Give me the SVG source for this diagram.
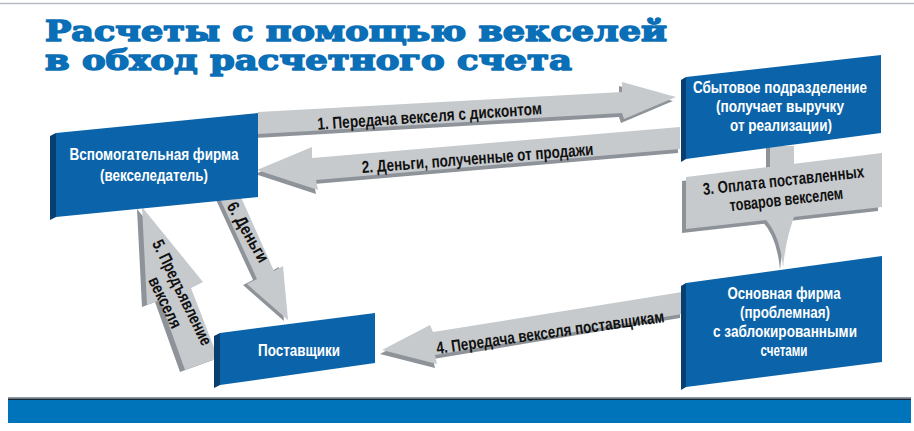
<svg xmlns="http://www.w3.org/2000/svg" width="914" height="431" viewBox="0 0 914 431">
<defs>
<style>
.bf{fill:#0b64aa}
.bs{fill:#073f70}
.af{fill:#c6cacd}
.as{fill:#8d9398}
.bt{font-family:"Liberation Sans",Arial,sans-serif;font-weight:bold;font-size:17px;fill:#ffffff;text-anchor:middle}
.at{font-family:"Liberation Sans",Arial,sans-serif;font-weight:bold;font-size:17px;fill:#111111;text-anchor:middle}
.tt{font-family:"DejaVu Serif",serif;font-weight:bold;font-size:28px;fill:#0a6fb6;stroke:#0a6fb6;stroke-width:1.5;stroke-linejoin:round}
</style>
</defs>
<rect width="914" height="431" fill="#ffffff"/>
<line x1="0" y1="3.5" x2="914" y2="3.5" stroke="#b8bcc0" stroke-width="1.5"/>
<g id="title">
<text class="tt" x="45" y="41" textLength="622" lengthAdjust="spacingAndGlyphs">Расчеты с помощью векселей</text>
<text class="tt" x="45" y="70" textLength="527" lengthAdjust="spacingAndGlyphs">в обход расчетного счета</text>
</g>
<g id="connectors">
<g id="arrow1">
<polygon class="as" transform="translate(-3,4)" points="258,112 622,92 622,82 676,97 624,119 622,113 258,134"/>
<polygon class="af" points="258,112 622,92 622,82 676,97 624,119 622,113 258,134"/>
<text class="at" transform="translate(430,122) rotate(-4)" textLength="225" lengthAdjust="spacingAndGlyphs">1. Передача векселя с дисконтом</text>
</g>
<g id="arrow2">
<polygon class="as" transform="translate(-2,4)" points="680,127 312,158 312,147 257,170 318,190 316,180 680,149"/>
<polygon class="af" points="680,127 312,158 312,147 257,170 318,190 316,180 680,149"/>
<text class="at" transform="translate(478,164) rotate(-4.5)" textLength="232" lengthAdjust="spacingAndGlyphs">2. Деньги, полученные от продажи</text>
</g>
<g id="arrow3">
<rect class="as" x="766" y="146" width="27" height="26"/>
<rect class="af" x="770" y="146" width="24" height="24"/>
<polygon class="as" transform="translate(-4,4)" points="686,177 882,153 882,207 686,229"/>
<path class="as" transform="translate(-3,2)" d="M762 216 Q780 232 783 268 Q786 236 796 212 Z"/>
<polygon class="af" points="686,177 882,153 882,207 686,229"/>
<path class="af" d="M762 216 Q780 232 783 268 Q786 236 796 212 Z"/>
<text class="at" transform="translate(784,186) rotate(-6.3)" textLength="162" lengthAdjust="spacingAndGlyphs">3. Оплата поставленных</text>
<text class="at" transform="translate(787,205) rotate(-6.3)" textLength="114" lengthAdjust="spacingAndGlyphs">товаров векселем</text>
</g>
<g id="arrow4">
<polygon class="as" transform="translate(-2,4)" points="682,292 433,332 430,325 382,350 437,364 435,355 682,314"/>
<polygon class="af" points="682,292 433,332 430,325 382,350 437,364 435,355 682,314"/>
<text class="at" transform="translate(551,338) rotate(-8)" textLength="230" lengthAdjust="spacingAndGlyphs">4. Передача векселя поставщикам</text>
</g>
<g id="arrow5">
<polygon class="as" transform="translate(-5,2)" points="142,207 203,282 191,288 218,358 185,370 160,300 147,305"/>
<polygon class="af" points="142,207 203,282 191,288 218,358 185,370 160,300 147,305"/>
<text class="at" transform="translate(177,295) rotate(64)" textLength="115" lengthAdjust="spacingAndGlyphs">5. Предъявление</text>
<text class="at" transform="translate(160,305) rotate(64)" textLength="55" lengthAdjust="spacingAndGlyphs">векселя</text>
</g>
<g id="arrow6">
<polygon class="as" transform="translate(-4,1)" points="216,190 236,186 274,271 283,266 288,320 247,284 257,279"/>
<polygon class="af" points="216,190 236,186 274,271 283,266 288,320 247,284 257,279"/>
<text class="at" transform="translate(243,235) rotate(60)" textLength="67" lengthAdjust="spacingAndGlyphs">6. Деньги</text>
</g>
</g>
<g id="node-vspom">
<polygon class="bs" points="50,136 56,133 56,217 50,220"/>
<polygon class="bf" points="56,133 258,113 258,197 56,217"/>
<text class="bt" x="154" y="160" textLength="169" lengthAdjust="spacingAndGlyphs">Вспомогательная фирма</text>
<text class="bt" x="154" y="181" textLength="108" lengthAdjust="spacingAndGlyphs">(векселедатель)</text>
</g>
<g id="node-sbyt">
<polygon class="bs" points="681,80 686,77 686,159 681,162"/>
<polygon class="bf" points="686,77 881,55 881,133 686,159"/>
<text class="bt" x="780" y="93" textLength="174" lengthAdjust="spacingAndGlyphs">Сбытовое подразделение</text>
<text class="bt" x="780" y="112" textLength="128" lengthAdjust="spacingAndGlyphs">(получает выручку</text>
<text class="bt" x="781" y="131" textLength="102" lengthAdjust="spacingAndGlyphs">от реализации)</text>
</g>
<g id="node-osnov">
<polygon class="bs" points="681,286 686,283 686,387 681,390"/>
<polygon class="bf" points="686,283 882,256 882,362 686,387"/>
<text class="bt" x="784" y="299" textLength="113" lengthAdjust="spacingAndGlyphs">Основная фирма</text>
<text class="bt" x="785" y="318" textLength="90" lengthAdjust="spacingAndGlyphs">(проблемная)</text>
<text class="bt" x="785" y="337" textLength="144" lengthAdjust="spacingAndGlyphs">с заблокированными</text>
<text class="bt" x="784" y="356" textLength="47" lengthAdjust="spacingAndGlyphs">счетами</text>
</g>
<g id="node-postav">
<polygon class="bs" points="214,336 220,333 220,385 214,388"/>
<polygon class="bf" points="220,333 375,313 375,363 220,385"/>
<text class="bt" x="299" y="356" textLength="82" lengthAdjust="spacingAndGlyphs">Поставщики</text>
</g>
<g id="footer">
<rect x="8" y="397" width="903" height="1.5" fill="#8a9aa8"/>
<rect x="8" y="398.5" width="903" height="1.5" fill="#1a2530"/>
<rect x="8" y="400" width="903" height="23" fill="#0074bb"/>
</g>
</svg>
